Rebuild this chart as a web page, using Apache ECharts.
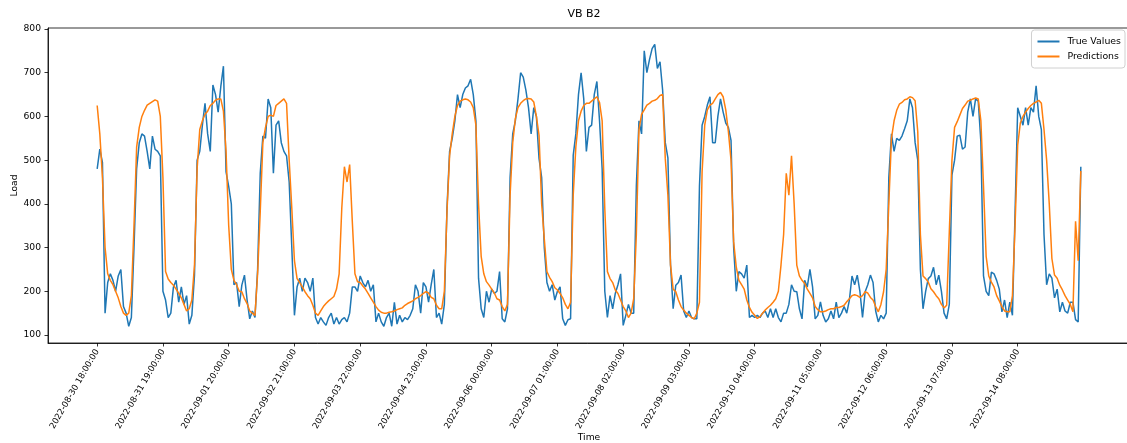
<!DOCTYPE html>
<html><head><meta charset="utf-8">
<script src="https://cdn.jsdelivr.net/npm/echarts@6/dist/echarts.min.js"></script>
<style>html,body{margin:0;padding:0;background:#fff}#c{width:1127px;height:443px}</style>
</head><body><div id="c"></div>
<script>
const tickIdx = [0,25,50,75,100,125,150,175,200,225,250,275,300,325,350];
const tickLabels = ['2022-08-30 18:00:00','2022-08-31 19:00:00','2022-09-01 20:00:00','2022-09-02 21:00:00','2022-09-03 22:00:00','2022-09-04 23:00:00','2022-09-06 00:00:00','2022-09-07 01:00:00','2022-09-08 02:00:00','2022-09-09 03:00:00','2022-09-10 04:00:00','2022-09-11 05:00:00','2022-09-12 06:00:00','2022-09-13 07:00:00','2022-09-14 08:00:00'];
const yTicks = [100,200,300,400,500,600,700,800];

const trueValues = [
480,525,495,150,220,240,225,200,235,250,165,150,120,140,300,480,540,560,555,520,480,555,525,520,510,200,180,140,150,210,225,175,210,
170,190,125,145,237,500,520,580,630,560,520,672,650,610,668,715,473,440,400,215,220,165,214,237,180,137,155,140,250,470,555,550,640,620,
470,580,590,540,520,510,450,300,145,210,230,200,230,220,200,230,140,125,140,130,122,140,150,125,140,125,135,140,130,150,210,210,200,235,
220,210,225,200,215,130,150,130,120,140,150,120,175,125,145,130,140,135,145,160,215,200,150,220,210,175,215,250,140,150,125,170,390,520,
550,590,650,620,650,665,670,685,650,590,230,160,140,200,175,205,195,200,245,137,130,160,460,560,590,640,700,690,660,620,560,620,600,504,460,
300,220,200,215,180,200,210,137,122,135,137,511,560,650,700,640,520,575,580,650,680,590,480,200,140,190,160,195,215,240,122,145,170,150,
150,440,590,560,750,700,730,755,765,710,725,660,540,505,260,160,214,220,237,155,140,155,140,137,137,440,580,600,626,645,540,540,600,640,
610,585,575,545,300,200,245,240,230,260,140,145,140,145,140,150,155,140,160,140,160,140,130,150,150,170,215,200,199,160,137,225,210,250,
210,137,145,176,145,130,137,155,137,175,140,150,165,150,180,235,215,237,200,140,199,215,237,220,155,130,145,137,150,460,560,520,550,545,555,
572,590,640,620,540,500,250,160,200,229,235,255,215,237,200,150,137,170,466,500,555,557,525,530,610,640,600,640,635,542,235,200,190,244,240,225,205,153,180,140,175,145,380,620,600,580,620,580,620,610,670,600,570,330,215,240,230,185,205,153,175,155,150,175,175,135,130,485
];

const predictions = [
625,560,460,300,240,225,215,200,185,165,150,145,150,190,350,530,575,600,614,626,630,634,638,635,600,460,245,228,220,214,205,195,185,
170,155,160,180,260,480,570,590,605,612,625,630,637,640,640,612,520,351,250,225,215,200,199,183,172,155,150,145,240,382,540,575,600,603,
600,625,630,635,640,630,500,390,270,229,220,210,199,190,183,168,150,145,155,165,172,178,183,188,205,240,390,485,450,490,360,240,222,220,
212,205,195,185,175,165,157,152,150,150,152,153,155,158,160,162,168,172,175,178,183,186,190,195,199,196,186,183,168,160,160,200,382,510,
560,600,625,635,638,640,638,633,620,580,400,280,240,222,214,205,196,183,180,165,155,170,420,540,595,620,630,636,640,641,640,633,600,557,400,
320,245,232,222,208,203,195,185,170,160,175,420,530,590,612,625,630,630,635,640,645,632,590,390,245,229,220,203,195,180,165,155,140,150,
183,330,570,605,615,626,630,635,637,641,648,650,504,420,260,205,199,180,165,157,150,145,140,137,150,175,473,580,615,626,630,640,650,655,
645,615,565,500,313,255,225,215,205,180,163,152,145,138,142,150,157,163,168,175,183,200,260,330,470,420,510,400,260,235,225,218,205,195,
185,165,158,153,153,155,158,160,160,163,163,165,168,176,183,190,192,190,186,190,199,196,186,180,165,153,170,199,250,400,550,590,614,628,632,
638,640,645,643,636,565,330,235,229,221,206,199,190,183,170,162,168,336,500,575,588,603,618,626,635,637,640,642,640,590,440,280,235,221,210,190,178,165,155,153,153,190,350,534,585,600,610,618,625,630,633,637,630,570,500,400,275,237,230,214,203,190,180,170,153,360,270,475
];

const FONT = 'DejaVu Sans';
const chart = echarts.init(document.getElementById('c'), null, {renderer: 'canvas'});
const toPairs = arr => arr.map((v, i) => [i, v]);

chart.setOption({
  animation: false,
  backgroundColor: '#fff',
  textStyle: {fontFamily: FONT},
  title: {
    text: 'VB B2', left: 579, top: 4, textAlign: 'center',
    textStyle: {fontFamily: FONT, fontSize: 11, fontWeight: 'normal', color: '#000'}
  },
  legend: {
    orient: 'vertical', right: 2, top: 30,
    data: [{name: 'True Values', icon: 'rect'}, {name: 'Predictions', icon: 'rect'}],
    itemWidth: 22, itemHeight: 2, itemGap: 4,
    padding: [6, 4, 6, 6],
    backgroundColor: '#fff', borderColor: '#d0d0d0', borderWidth: 1, borderRadius: 3,
    textStyle: {fontFamily: FONT, fontSize: 9.4, color: '#000', padding: [0, 0, 0, 3], lineHeight: 11}
  },
  grid: {left: 48, right: -3, top: 28, bottom: 100, show: true, borderColor: '#000', borderWidth: 0.8,
         containLabel: false, outerBoundsMode: 'none'},
  xAxis: {
    type: 'value', min: -18.7, max: 392.7,
    name: 'Time', nameLocation: 'middle', nameGap: 90, nameMoveOverlap: false,
    nameTextStyle: {fontFamily: FONT, fontSize: 9.2, color: '#000'},
    axisLine: {show: true, onZero: false, lineStyle: {color: '#000', width: 0.8}},
    axisTick: {show: true, customValues: tickIdx, length: 3.5, lineStyle: {color: '#000', width: 0.8}},
    axisLabel: {
      customValues: tickIdx, rotate: 60, margin: 7,
      fontFamily: FONT, fontSize: 8.5, color: '#000',
      formatter: v => { const k = tickIdx.indexOf(Math.round(v)); return k >= 0 ? tickLabels[k] : ''; }
    },
    splitLine: {show: false}
  },
  yAxis: {
    type: 'value', min: 81.7, max: 802.3,
    name: 'Load', nameLocation: 'middle', nameGap: 29, nameMoveOverlap: false,
    nameTextStyle: {fontFamily: FONT, fontSize: 9.2, color: '#000'},
    axisLine: {show: true, onZero: false, lineStyle: {color: '#000', width: 0.8}},
    axisTick: {show: true, customValues: yTicks, length: 3.5, lineStyle: {color: '#000', width: 0.8}},
    axisLabel: {customValues: yTicks, margin: 7, fontFamily: FONT, fontSize: 9.2, color: '#000'},
    splitLine: {show: false}
  },
  series: [
    {name: 'True Values', type: 'line', data: toPairs(trueValues), showSymbol: false, symbol: 'none',
     lineStyle: {color: '#1f77b4', width: 1.5}, itemStyle: {color: '#1f77b4'}, z: 2},
    {name: 'Predictions', type: 'line', data: toPairs(predictions), showSymbol: false, symbol: 'none',
     lineStyle: {color: '#ff7f0e', width: 1.5}, itemStyle: {color: '#ff7f0e'}, z: 3}
  ]
});
</script></body></html>
